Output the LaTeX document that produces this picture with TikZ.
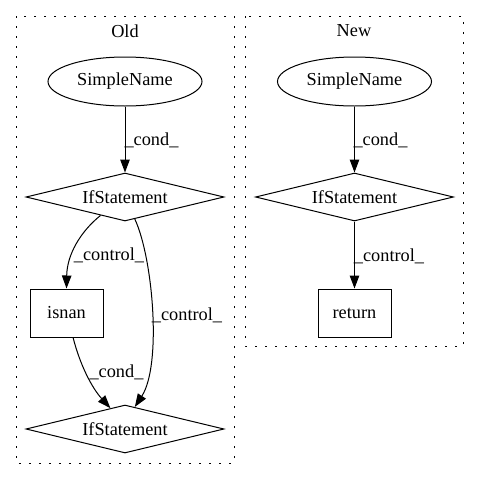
\documentclass[tikz,border=0pt]{standalone}
\usepackage{fontspec}
\setmainfont{Liberation Serif}
\usetikzlibrary{shapes.geometric,arrows.meta}
\begin{document}
\begin{tikzpicture}[x=1pt,y=-1pt,
  every node/.style={font=\fontsize{18.3}{22}\selectfont},
  cluster/.style={draw, line width=1pt, dash pattern=on 1.6pt off 8.4pt},
  ell/.style={draw, line width=1pt, ellipse, minimum width=154pt, minimum height=49pt, inner sep=0pt},
  dia/.style={draw, line width=1pt, diamond, shape aspect=4.125, minimum width=198pt, minimum height=48pt, inner sep=0pt},
  box/.style={draw, line width=1pt, rectangle, minimum width=73pt, minimum height=48pt, inner sep=0pt},
  edge/.style={draw, line width=1pt, -{Triangle[length=13pt,width=9.5pt]}},
  lbl/.style={inner sep=0pt}
]
\useasboundingbox (0,0) rectangle (480,480);
% clusters
\draw[cluster] (16,16) rectangle (234,463);
\draw[cluster] (245,16) rectangle (463,346);
\node (toldtitle) at (125,31) {Old};
\node (tnewtitle) at (354,31) {New};
% Old nodes
\node[ell] (osn) at (125,81.5) {SimpleName};
\node[dia] (oif1) at (125,197) {IfStatement};
\node[box] (isnan) at (66.5,313) {isnan};
\node[dia] (oif2) at (125,429) {IfStatement};
% New nodes
\node[ell] (nsn) at (354.5,81.5) {SimpleName};
\node[dia] (nif) at (354.5,197) {IfStatement};
\node[box] (ret) at (354.5,313) {return};
% Old edges
\draw[edge] (osn.south) -- (oif1.north);
\draw[edge] (oif1.-143) .. controls (80,232) and (67,255) .. (isnan.north);
\draw[edge] (oif1.-66) .. controls (153,258) and (162,365) .. (oif2.66);
\draw[edge] (isnan.-75) .. controls (80,365) and (92,388) .. (oif2.125);
% New edges
\draw[edge] (nsn.south) -- (nif.north);
\draw[edge] (nif.south) -- (ret.north);
% labels
\node[lbl] (l1) at (151.5,140) {\_cond\_};
\node[lbl] (l2) at (109,255) {\_control\_};
\node[lbl] (l3) at (187,315) {\_control\_};
\node[lbl] (l4) at (116.5,372) {\_cond\_};
\node[lbl] (l5) at (380.5,140) {\_cond\_};
\node[lbl] (l6) at (389,256) {\_control\_};
\end{tikzpicture}
\end{document}
